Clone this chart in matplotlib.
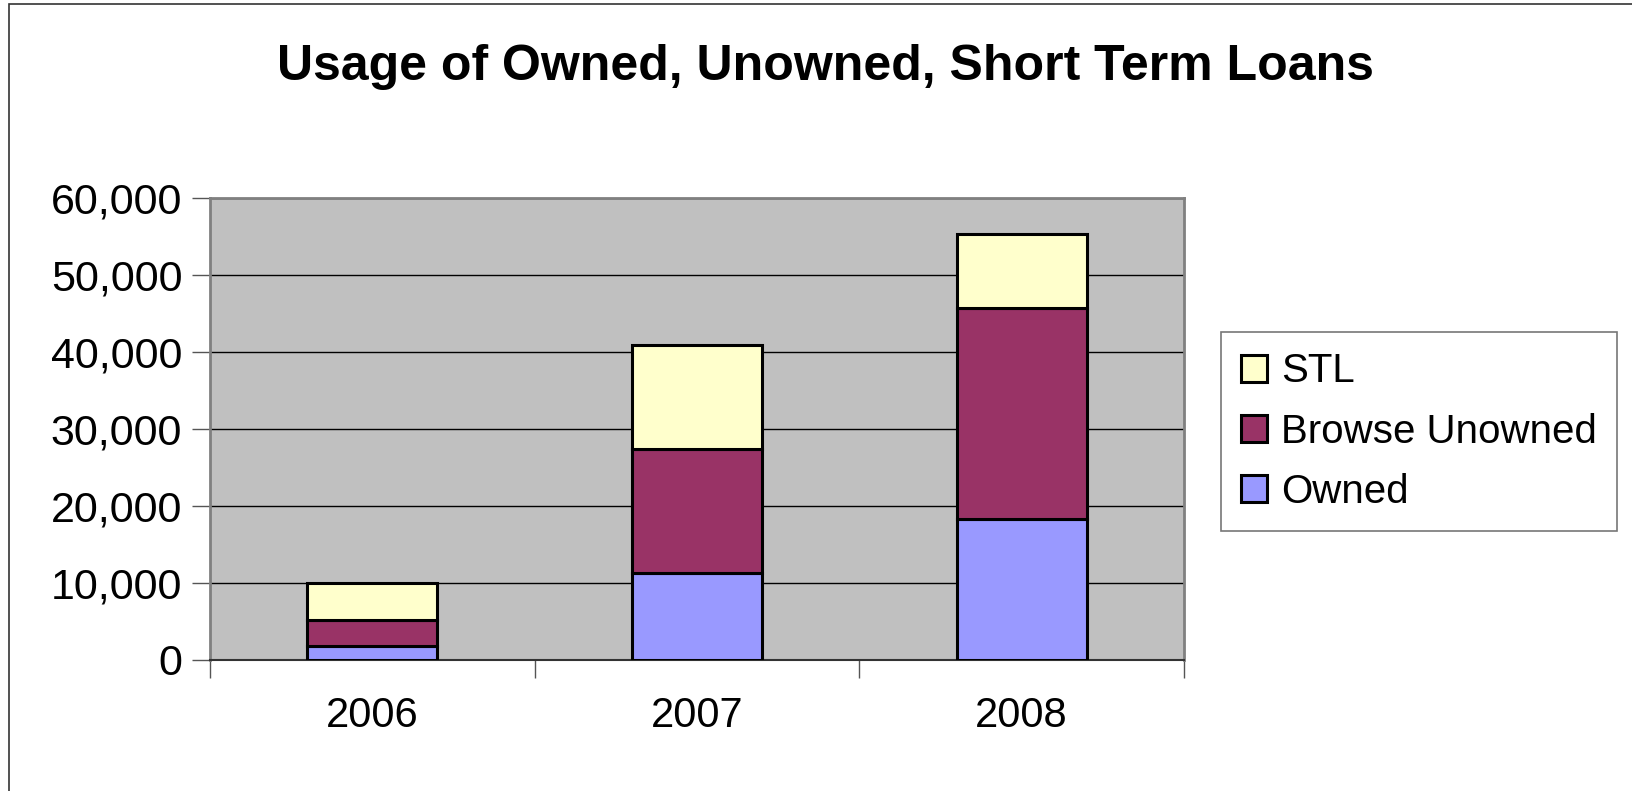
import numpy as np
import matplotlib.pyplot as plt
from matplotlib.patches import Rectangle
from matplotlib.ticker import FuncFormatter

# data
years = ["2006", "2007", "2008"]
owned = [1700, 11250, 18300]
browse_unowned = [3450, 16150, 27400]
stl = [4850, 13550, 9600]

plt.rcParams['font.family'] = ['Liberation Sans', 'DejaVu Sans']

fig = plt.figure(figsize=(16.33, 7.91), dpi=100)
W, H = 1633, 791
# axes placed in pixel terms
ax = fig.add_axes([210 / W, 1 - 659.5 / H, (1184 - 210) / W, (659.5 - 198) / H])
ax.set_facecolor("#C0C0C0")

x = np.arange(len(years))
bw = 0.40
ax.bar(x, owned, bw, color="#9999FF", edgecolor="black", linewidth=2.2, label="Owned", zorder=3)
ax.bar(x, browse_unowned, bw, bottom=owned, color="#993366", edgecolor="black",
       linewidth=2.2, label="Browse Unowned", zorder=3)
bottom2 = np.array(owned) + np.array(browse_unowned)
ax.bar(x, stl, bw, bottom=bottom2, color="#FFFFCC", edgecolor="black",
       linewidth=2.2, label="STL", zorder=3)

ax.set_xlim(-0.5, 2.5)
ax.set_ylim(0, 60000)
ax.set_yticks(np.arange(0, 60001, 10000))
ax.yaxis.set_major_formatter(FuncFormatter(lambda v, p: f"{int(v):,}"))
ax.grid(axis="y", color="black", linewidth=1.0, zorder=1)

# category boundaries as major ticks, labels at centers
ax.set_xticks([-0.5, 0.5, 1.5, 2.5])
ax.set_xticklabels([])
ax.set_xticks(x, minor=True)
ax.set_xticklabels(years, minor=True)
ax.tick_params(axis="x", which="minor", length=0, pad=26, labelsize=30)
ax.tick_params(axis="x", which="major", length=13, width=1, color="#555555")
ax.tick_params(axis="y", length=13, width=1, color="#555555", labelsize=31, pad=7)

for s in ["left", "top", "right"]:
    ax.spines[s].set_color("#808080")
    ax.spines[s].set_linewidth(2)
ax.spines["bottom"].set_color("#333333")
ax.spines["bottom"].set_linewidth(1.5)

fig.text(825 / W, 1 - 67 / H, "Usage of Owned, Unowned, Short Term Loans",
         ha="center", va="center", fontsize=36, fontweight="bold")

h, l = ax.get_legend_handles_labels()
leg = fig.legend(h[::-1], l[::-1], loc="upper left",
                 bbox_to_anchor=(1220.7 / W, 1 - 332.3 / H), fontsize=29,
                 frameon=True, fancybox=False, edgecolor="#555555",
                 handlelength=0.65, handleheight=0.65, handletextpad=0.35,
                 labelspacing=0.55, borderpad=0.5, borderaxespad=0)
leg.get_frame().set_linewidth(1.2)

# outer chart border
fig.patches.append(Rectangle((9 / W, -0.1), 1.2, 1 - 4 / H + 0.1, transform=fig.transFigure,
                             fill=False, edgecolor="#333333", linewidth=1.2))

fig.savefig("out.png", dpi=100)
